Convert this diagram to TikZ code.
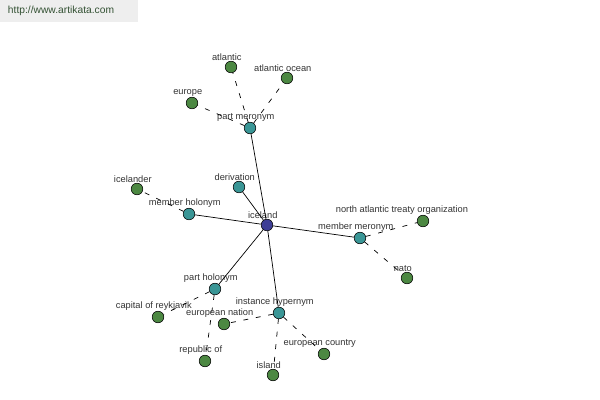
\documentclass[tikz,border=0pt]{standalone}
\usepackage{fontspec}
\setmainfont{Liberation Sans}
\usetikzlibrary{positioning}
\definecolor{hubblue}{RGB}{62,62,150}
\definecolor{relteal}{RGB}{58,150,150}
\definecolor{leafgreen}{RGB}{76,136,66}
\definecolor{marktext}{RGB}{52,82,52}
\definecolor{markbg}{RGB}{238,238,238}

\begin{document}
\begin{tikzpicture}[x=0.025cm,y=-0.025cm,
        every node/.style = {font=\fontsize{6.6}{7}\selectfont},
        dot/.style = {circle,draw=black,line width=.4pt,minimum size=0.29cm,inner sep=0pt},
        every label/.style = {text=black!80,inner sep=1pt,label distance=-1pt,xshift=-3pt},
        hub/.style = {dot,fill=hubblue},
        relation/.style = {dot,fill=relteal},
        leaf/.style = {dot,fill=leafgreen},
        linesolid/.style = {line width=.5pt},
        linedash/.style = {line width=.5pt,dash pattern=on 3.5pt off 5.5pt},
        ]
        \useasboundingbox (0,0) rectangle (600,400);
        \fill[markbg] (0,0) rectangle (138,22);
        \node[anchor=west,text=marktext,font=\fontsize{7.3}{8}\selectfont] (mark) at (3,11) {http://www.artikata.com};

        \node[hub,label=above:iceland] (node-iceland) at (267,225) {};
        \node[relation,label=above:part meronym] (node-partmer) at (250,128) {};
        \node[relation,label=above:derivation] (node-deriv) at (239,187) {};
        \node[relation,label=above:member holonym] (node-memhol) at (189,214) {};
        \node[relation,label=above:member meronym] (node-memmer) at (360,238) {};
        \node[relation,label=above:part holonym] (node-parthol) at (215,289) {};
        \node[relation,label=above:instance hypernym] (node-insthyp) at (279,313) {};

        \node[leaf,label=above:atlantic] (node-atlantic) at (231,67) {};
        \node[leaf,label=above:atlantic ocean] (node-ocean) at (287,78) {};
        \node[leaf,label=above:europe] (node-europe) at (192,103) {};
        \node[leaf,label=above:icelander] (node-icelander) at (137,189) {};
        \node[leaf,label={[xshift=-12pt]above:north atlantic treaty organization}] (node-nato-org) at (423,221) {};
        \node[leaf,label=above:nato] (node-nato) at (407,278) {};
        \node[leaf,label=above:capital of reykjavik] (node-capital) at (158,317) {};
        \node[leaf,label=above:republic of] (node-republic) at (205,361) {};
        \node[leaf,label=above:european nation] (node-eunation) at (224,324) {};
        \node[leaf,label=above:european country] (node-eucountry) at (324,354) {};
        \node[leaf,label=above:island] (node-island) at (273,375) {};

        \draw[linesolid]
        (node-iceland) -- (node-partmer)
        (node-iceland) -- (node-deriv)
        (node-iceland) -- (node-memhol)
        (node-iceland) -- (node-memmer)
        (node-iceland) -- (node-parthol)
        (node-iceland) -- (node-insthyp)
        ;
        \draw[linedash]
        (node-partmer) -- (node-atlantic)
        (node-partmer) -- (node-ocean)
        (node-partmer) -- (node-europe)
        (node-memhol) -- (node-icelander)
        (node-memmer) -- (node-nato-org)
        (node-memmer) -- (node-nato)
        (node-parthol) -- (node-capital)
        (node-parthol) -- (node-republic)
        (node-insthyp) -- (node-eunation)
        (node-insthyp) -- (node-eucountry)
        (node-insthyp) -- (node-island)
        ;
    \end{tikzpicture}
\end{document}
